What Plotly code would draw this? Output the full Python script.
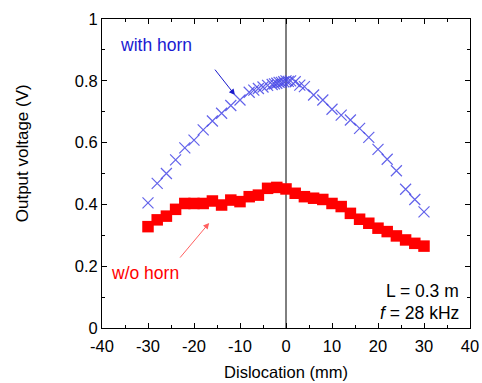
import plotly.graph_objects as go

# with horn (blue crosses)
horn_x = [-30, -28, -26, -24, -22, -20, -18, -16, -14, -12, -10, -8, -7, -6, -5, -4, -3, -2.5, -2,
          -1.5, -1, -0.5, 0, 0.5, 1, 2, 3, 4, 6, 8, 10, 12, 14, 16, 18, 20, 22, 24, 26, 28, 30]
horn_y = [0.405, 0.468, 0.500, 0.544, 0.583, 0.608, 0.641, 0.670, 0.695, 0.720, 0.738, 0.763, 0.770,
          0.775, 0.780, 0.785, 0.788, 0.790, 0.792, 0.795, 0.795, 0.797, 0.800, 0.798, 0.800, 0.797,
          0.786, 0.781, 0.754, 0.738, 0.708, 0.689, 0.673, 0.646, 0.617, 0.578, 0.546, 0.509, 0.449,
          0.416, 0.376]

# without horn (red squares)
nohorn_x = [-30, -28, -26, -24, -22, -20, -18, -16, -14, -12, -10, -8, -6, -4, -2, 0,
            2, 4, 6, 8, 10, 12, 14, 16, 18, 20, 22, 24, 26, 28, 30]
nohorn_y = [0.328, 0.350, 0.362, 0.384, 0.403, 0.403, 0.403, 0.411, 0.398, 0.414, 0.409, 0.425,
            0.430, 0.452, 0.455, 0.450, 0.436, 0.425, 0.420, 0.416, 0.403, 0.393, 0.371, 0.352,
            0.339, 0.323, 0.312, 0.298, 0.285, 0.274, 0.265]

x_ticks = [-40, -30, -20, -10, 0, 10, 20, 30, 40]
x_ticklabels = ["-40", "-30", "-20", "-10", "0", "10", "20", "30", "40"]

FONT = "Liberation Sans, Arial, sans-serif"
FS = 17.5
FT = 16.5

fig = go.Figure()
fig.add_trace(go.Scatter(
    x=[0, 0], y=[0, 1], mode="lines", line=dict(color="black", width=1),
    showlegend=False, hoverinfo="skip"))
fig.add_trace(go.Scatter(
    x=nohorn_x, y=nohorn_y, mode="markers",
    marker=dict(symbol="square", size=11.5, color="#ff0000", line=dict(width=0)),
    showlegend=False))
fig.add_trace(go.Scatter(
    x=horn_x, y=horn_y, mode="markers",
    marker=dict(symbol="x-thin-open", size=11, color="rgba(70,70,230,0.85)",
                line=dict(width=1.2, color="rgba(70,70,230,0.85)")),
    showlegend=False))

axis_common = dict(
    showline=True, linecolor="black", linewidth=1, mirror="allticks",
    ticks="inside", ticklen=5, tickcolor="black", showgrid=False, zeroline=False,
    automargin=False,
    tickfont=dict(family=FONT, size=FT, color="black"),
)
fig.update_xaxes(range=[-40, 40], tickvals=x_ticks, ticktext=x_ticklabels, ticklabelstandoff=3,
                 minor=dict(ticks="inside", ticklen=3, dtick=5, tickcolor="black", showgrid=False),
                 title=dict(text="Dislocation (mm)", font=dict(family=FONT, size=16.5, color="black"),
                            standoff=12),
                 **axis_common)
fig.update_yaxes(range=[0, 1], dtick=0.2, tick0=0,
                 minor=dict(ticks="inside", ticklen=3, dtick=0.1, tickcolor="black", showgrid=False),
                 **axis_common)

fig.add_annotation(xref="paper", yref="paper", x=-0.217, y=0.566, text="Output voltage (V)",
                   textangle=-90, showarrow=False, xanchor="center", yanchor="middle",
                   font=dict(family=FONT, size=17, color="black"))
fig.add_annotation(x=-36.6, y=0.916, text="with horn", showarrow=False, xanchor="left",
                   font=dict(family=FONT, size=FS, color="#1a1ad2"))
fig.add_annotation(x=-38.4, y=0.178, text="w/o horn", showarrow=False, xanchor="left",
                   font=dict(family=FONT, size=FS, color="#ff0000"))
fig.add_annotation(x=-11.1, y=0.754, ax=-15.7, ay=0.841, axref="x", ayref="y",
                   showarrow=True, arrowhead=2, arrowsize=1.2, arrowwidth=1, arrowcolor="#1a1acc", text="")
fig.add_annotation(x=-16.7, y=0.34, ax=-23.3, ay=0.223, axref="x", ayref="y",
                   showarrow=True, arrowhead=2, arrowsize=1.2, arrowwidth=1, arrowcolor="#ff6060", text="")
fig.add_annotation(x=38.0, y=0.12, text="L = 0.3 m", showarrow=False, xanchor="right",
                   font=dict(family=FONT, size=FS, color="black"))
fig.add_annotation(x=38.0, y=0.05, text="<i>f</i> = 28 kHz", showarrow=False, xanchor="right",
                   font=dict(family=FONT, size=FS, color="black"))

fig.update_layout(
    width=482, height=383,
    margin=dict(l=102, r=12, t=19, b=55),
    paper_bgcolor="white", plot_bgcolor="white",
    font=dict(family=FONT, color="black"),
)

fig.write_html("out.html")
